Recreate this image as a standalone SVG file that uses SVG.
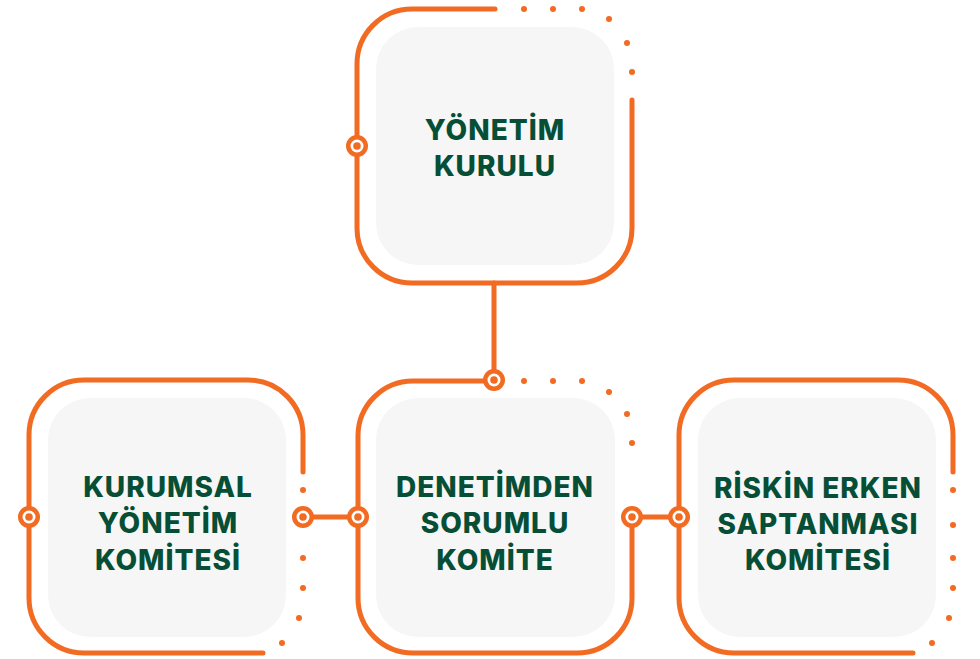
<svg xmlns="http://www.w3.org/2000/svg" width="980" height="659" viewBox="0 0 980 659">
<style>
.frame{fill:none;stroke:#f26b22;stroke-width:5;stroke-linecap:round;stroke-linejoin:round}
.dot{fill:#f26b22}
.inner{fill:#f6f6f6}
.lbl{font-family:Inter,"Liberation Sans",Arial,sans-serif;font-weight:800;font-size:28px;letter-spacing:1px;fill:#064f36;text-anchor:middle}
.conn{stroke:#f26b22;stroke-width:5;stroke-linecap:round;fill:none}
</style>
<defs>
<g id="mk"><circle r="11" fill="#f26b22"/><circle r="6.5" fill="#fff"/><circle r="3.8" fill="#f26b22"/></g>
</defs>
<rect width="980" height="659" fill="#fff"/>
<g id="connectors">
<line class="conn" x1="494" y1="283" x2="494" y2="380"/>
<line class="conn" x1="303" y1="517" x2="358" y2="517"/>
<line class="conn" x1="632" y1="517" x2="679" y2="517"/>
</g>
<g id="yonetim-kurulu">
<rect class="inner" x="376" y="27" width="238" height="238" rx="42"/>
<path class="frame" d="M495 9 H412 A55 55 0 0 0 357 64 V228 A55 55 0 0 0 412 283 H577 A55 55 0 0 0 632 228 V100"/>
<circle class="dot" cx="524" cy="9" r="3"/><circle class="dot" cx="553" cy="9" r="3"/><circle class="dot" cx="582" cy="9" r="3"/>
<circle class="dot" cx="609" cy="19" r="3"/><circle class="dot" cx="627" cy="43" r="3"/><circle class="dot" cx="632" cy="72" r="3"/>
<use href="#mk" x="357" y="146"/>
<text class="lbl" x="495" y="140">YÖNETİM</text>
<text class="lbl" x="495" y="176">KURULU</text>
</g>
<g id="kurumsal-yonetim">
<rect class="inner" x="48" y="398" width="238" height="239" rx="42"/>
<path class="frame" d="M303 472 V435 A55 55 0 0 0 248 380 H84 A55 55 0 0 0 29 435 V598 A55 55 0 0 0 84 653 H263"/>
<circle class="dot" cx="303" cy="490" r="3"/><circle class="dot" cx="303" cy="558" r="3"/><circle class="dot" cx="303" cy="588" r="3"/>
<circle class="dot" cx="299" cy="618" r="3"/><circle class="dot" cx="282" cy="643" r="3"/>
<use href="#mk" x="29" y="517"/>
<use href="#mk" x="303" y="517"/>
<text class="lbl" x="168" y="497">KURUMSAL</text>
<text class="lbl" x="168" y="533">YÖNETİM</text>
<text class="lbl" x="168" y="570">KOMİTESİ</text>
</g>
<g id="denetimden-sorumlu">
<rect class="inner" x="376" y="398" width="239" height="239" rx="42"/>
<path class="frame" d="M494 381 H413 A55 55 0 0 0 358 436 V598 A55 55 0 0 0 413 653 H577 A55 55 0 0 0 632 598 V517"/>
<circle class="dot" cx="524" cy="381" r="3"/><circle class="dot" cx="553" cy="381" r="3"/><circle class="dot" cx="582" cy="381" r="3"/>
<circle class="dot" cx="609" cy="392" r="3"/><circle class="dot" cx="627" cy="414" r="3"/><circle class="dot" cx="632" cy="443" r="3"/>
<use href="#mk" x="494" y="380"/>
<use href="#mk" x="358" y="517"/>
<use href="#mk" x="632" y="517"/>
<text class="lbl" x="495" y="497">DENETİMDEN</text>
<text class="lbl" x="495" y="533">SORUMLU</text>
<text class="lbl" x="495" y="570">KOMİTE</text>
</g>
<g id="riskin-erken">
<rect class="inner" x="698" y="398" width="238" height="239" rx="42"/>
<path class="frame" d="M953 472 V435 A55 55 0 0 0 898 380 H734 A55 55 0 0 0 679 435 V598 A55 55 0 0 0 734 653 H913"/>
<circle class="dot" cx="953" cy="490" r="3"/><circle class="dot" cx="953" cy="525" r="3"/><circle class="dot" cx="953" cy="558" r="3"/><circle class="dot" cx="953" cy="588" r="3"/>
<circle class="dot" cx="949" cy="618" r="3"/><circle class="dot" cx="932" cy="643" r="3"/>
<use href="#mk" x="679" y="517"/>
<text class="lbl" x="818" y="498">RİSKİN ERKEN</text>
<text class="lbl" x="818" y="534">SAPTANMASI</text>
<text class="lbl" x="818" y="570">KOMİTESİ</text>
</g>
</svg>
